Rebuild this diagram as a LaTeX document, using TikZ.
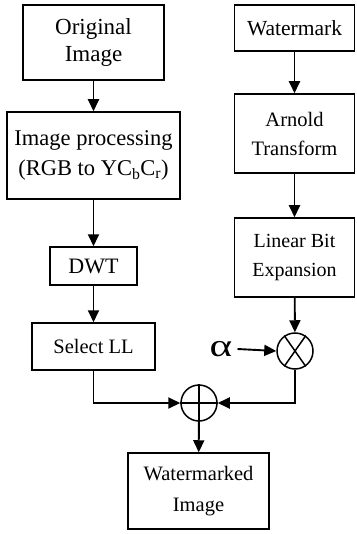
\documentclass[tikz,border=0pt]{standalone}
\usepackage{fontspec}
\usepackage{graphicx}
\setmainfont{Liberation Serif}
\usetikzlibrary{arrows.meta}
\begin{document}
\begin{tikzpicture}[x=1pt,y=-1pt,
  box/.style={draw,line width=1.5pt,align=center,inner sep=0pt,
    font=\fontsize{21}{26}\selectfont},
  arr/.style={line width=1.9pt,-{Triangle[length=12pt,width=11pt]}},
  op/.style={draw,circle,line width=1.5pt,minimum size=36pt,inner sep=0pt},
  opline/.style={line width=1.5pt}]
\useasboundingbox (0,0) rectangle (356,534);
\node[box,minimum width=141pt,minimum height=75pt,font=\fontsize{23}{27}\selectfont] (orig) at (93.5,42.5) {Original\\Image};
\node[box,minimum width=173pt,minimum height=87pt,font=\fontsize{22.5}{30}\selectfont] (proc) at (93.5,155.5) {Image processing\\(RGB to YC\textsubscript{b}C\textsubscript{r})};
\node[box,minimum width=87pt,minimum height=38pt,font=\fontsize{22}{26}\selectfont] (dwt) at (93.5,266) {DWT};
\node[box,minimum width=123pt,minimum height=47pt,font=\fontsize{20.5}{26}\selectfont] (sel) at (93.5,346.5) {Select LL};
\node[box,minimum width=120pt,minimum height=46pt,font=\fontsize{21.5}{26}\selectfont] (wm) at (294.5,28) {Watermark};
\node[box,minimum width=120pt,minimum height=79pt,font=\fontsize{20.5}{29}\selectfont] (arn) at (294.5,133.5) {Arnold\\Transform};
\node[box,minimum width=120pt,minimum height=79pt,font=\fontsize{20}{29}\selectfont] (lbe) at (294.5,257.5) {Linear Bit\\Expansion};
\node[op] (times) at (295,351) {};
\draw[opline] (times.55) -- (times.235) (times.125) -- (times.305);
\node[op] (plus) at (199,403) {};
\draw[opline] (plus.north) -- (plus.south) (plus.west) -- (plus.east);
\node[box,minimum width=141pt,minimum height=76pt,font=\fontsize{20.5}{31}\selectfont] (out) at (198.5,491) {Watermarked\\Image};
\node[font=\fontsize{32}{32}\selectfont,inner sep=1pt] (alpha) at (221,349) {\scalebox{1.35}[1]{α}};
\draw[arr] (orig) -- (proc);
\draw[arr] (proc) -- (dwt);
\draw[arr] (dwt) -- (sel);
\draw[arr] (sel.south) |- (plus.west);
\draw[arr] (wm) -- (arn);
\draw[arr] (arn) -- (lbe);
\draw[arr] (lbe) -- (times);
\draw[arr] (alpha.east) ++(4pt,0) -- (times.west);
\draw[arr] (times.south) |- (plus.east);
\draw[arr] (plus) -- (out);
\end{tikzpicture}
\end{document}
